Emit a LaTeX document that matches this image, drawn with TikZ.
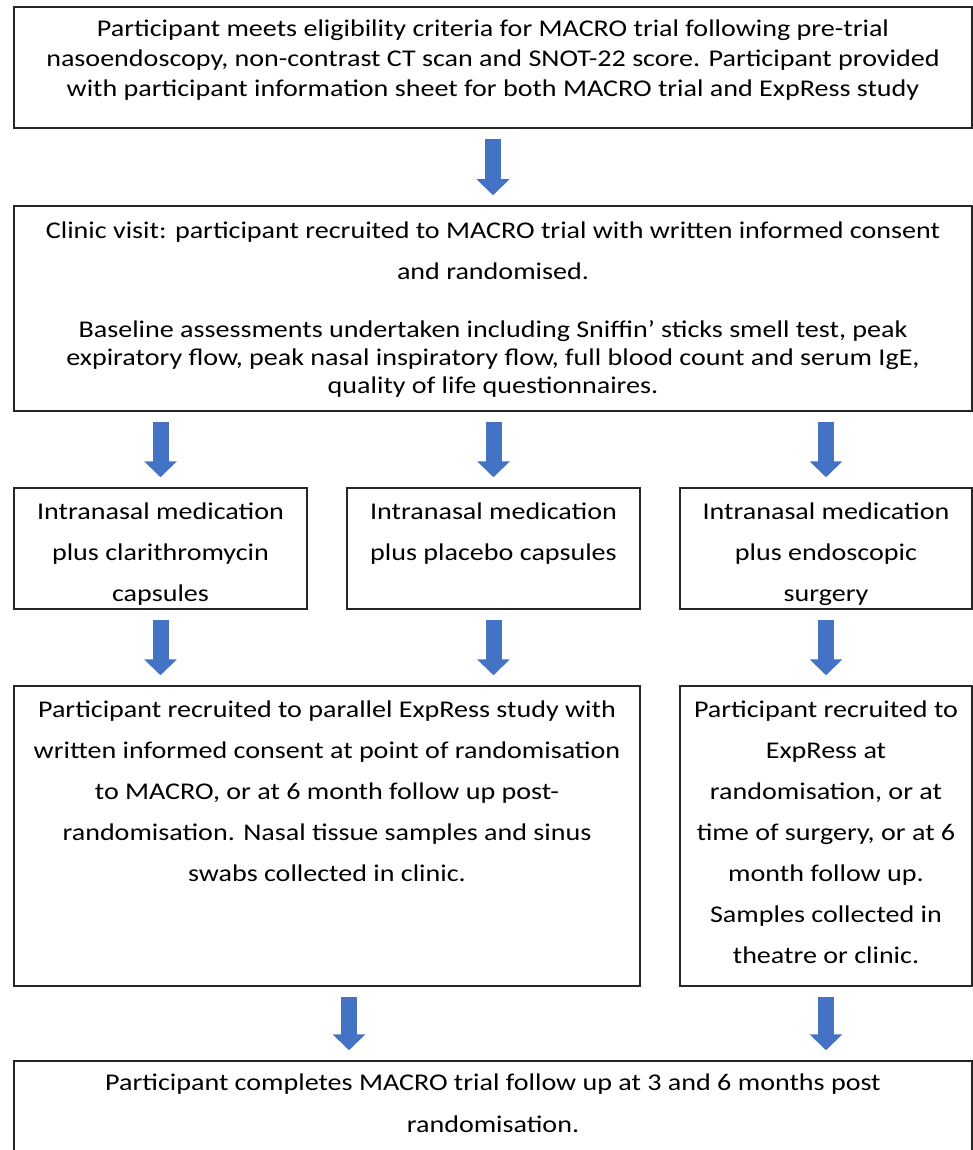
\documentclass[tikz,border=0pt]{standalone}
\usepackage{fontspec}
\setmainfont[FakeStretch=1.17]{Carlito}
\usetikzlibrary{arrows.meta}
\definecolor{arrowblue}{HTML}{4472C4}
\newcommand{\flowtext}[5]{\parbox[c][#1][t]{#2}{\centering\fontsize{24pt}{#4}\selectfont\rule{0pt}{#3}#5}}
\tikzset{
	flowbox/.style={draw=black!85,line width=1.5pt,inner sep=0pt,fill=white},
	flowarrow/.style={draw=arrowblue,line width=16pt,-{Triangle[width=32pt,length=16pt]},shorten <=10pt,shorten >=10pt}
}
\begin{document}
\begin{tikzpicture}[x=1pt,y=-1pt]
	\useasboundingbox (0,0) rectangle (973,1150);
	\clip (0,0) rectangle (973,1150);
	\node[flowbox] (intro) at (493,67.5) {\flowtext{121pt}{958pt}{30pt}{30pt}{Participant meets eligibility criteria for MACRO trial following pre-trial\\ nasoendoscopy, non-contrast CT scan and SNOT-22 score. Participant provided\\ with participant information sheet for both MACRO trial and ExpRess study}};
	\node[flowbox] (visit) at (493,308.5) {\flowtext{205pt}{958pt}{32pt}{28pt}{Clinic visit: participant recruited to MACRO trial with written informed consent\\[13pt] and randomised.\\[30pt] Baseline assessments undertaken including Sniffin’ sticks smell test, peak\\ expiratory flow, peak nasal inspiratory flow, full blood count and serum IgE,\\ quality of life questionnaires.}};
	
	\node[flowbox] (clari) at (160.5,548.5) {\flowtext{121pt}{293pt}{31pt}{41pt}{Intranasal medication\\ plus clarithromycin\\ capsules}};
	\node[flowbox] (placebo) at (493.5,548.5) {\flowtext{121pt}{293pt}{31pt}{41pt}{Intranasal medication\\ plus placebo capsules}};
	\node[flowbox] (surgery) at (826,548.5) {\flowtext{121pt}{292pt}{31pt}{41pt}{Intranasal medication\\ plus endoscopic\\ surgery}};
	
	\node[flowbox] (parallel) at (327,836) {\flowtext{300pt}{626pt}{31pt}{41pt}{Participant recruited to parallel ExpRess study with\\ written informed consent at point of randomisation\\ to MACRO, or at 6 month follow up post-\\ randomisation. Nasal tissue samples and sinus\\ swabs collected in clinic.}};
	\node[flowbox] (theatre) at (826,836) {\flowtext{300pt}{292pt}{31pt}{41pt}{Participant recruited to\\ ExpRess at\\ randomisation, or at\\ time of surgery, or at 6\\ month follow up.\\ Samples collected in\\ theatre or clinic.}};
	
	\node[flowbox] (followup) at (493,1136) {\flowtext{150pt}{958pt}{29pt}{42pt}{Participant completes MACRO trial follow up at 3 and 6 months post\\ randomisation.}};
	
	\draw[flowarrow] (intro) -- (visit);
	\draw[flowarrow] (clari.north |- visit.south) -- (clari.north);
	\draw[flowarrow] (placebo.north |- visit.south) -- (placebo.north);
	\draw[flowarrow] (surgery.north |- visit.south) -- (surgery.north);
	\draw[flowarrow] (clari.south) -- (clari.south |- parallel.north);
	\draw[flowarrow] (placebo.south) -- (placebo.south |- parallel.north);
	\draw[flowarrow] (surgery.south) -- (theatre.north);
	\coordinate (pf) at ([xshift=22pt]parallel.south);
	\draw[flowarrow] (pf) -- (pf |- followup.north);
	\draw[flowarrow] (theatre.south) -- (followup.north -| theatre.south);
\end{tikzpicture}
\end{document}
